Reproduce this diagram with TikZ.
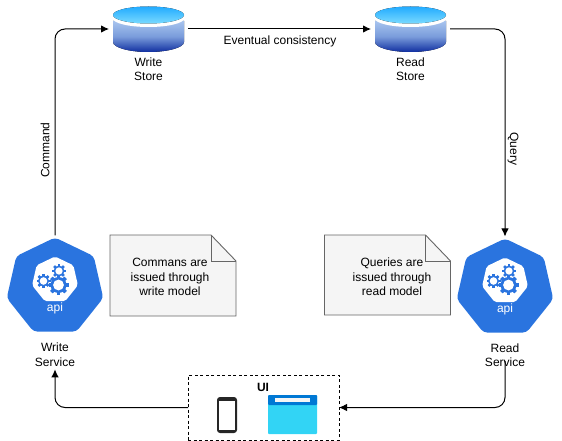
\documentclass[tikz,border=0pt]{standalone}
\usepackage{fontspec}
\setmainfont{Liberation Sans}
\usetikzlibrary{shapes.geometric, arrows.meta}
\definecolor{apiblue}{HTML}{2A74DF}
\definecolor{notefill}{HTML}{F5F5F5}
\definecolor{notedraw}{HTML}{666666}
\definecolor{winblue}{HTML}{0078D4}
\definecolor{wincyan}{HTML}{32D4F5}
\definecolor{storetop}{HTML}{22ABFF}
\definecolor{storelight}{HTML}{7ADAFF}
\definecolor{bodytop}{HTML}{A8C4EE}
\definecolor{bodymid}{HTML}{7A9CDB}
\definecolor{bodylow}{HTML}{0F2EA0}
\tikzset{
    conn/.style={line width=1pt, ->, rounded corners=10pt},
    labeltext/.style={align=center, inner sep=0pt, font=\fontsize{12}{14.5}\selectfont},
    notebox/.style={draw=notedraw, line width=0.9pt},
    apihull/.style={regular polygon, regular polygon sides=7, fill=apiblue, minimum size=99pt, inner sep=0pt, outer sep=0pt, rounded corners=4pt},
    apicore/.style={regular polygon, regular polygon sides=7, fill=white, minimum size=47pt, inner sep=0pt, outer sep=0pt, rounded corners=2pt},
    storebox/.style={minimum width=79pt, minimum height=46pt, inner sep=0pt, outer sep=0pt},
    gearicon/.pic={
        \foreach \a in {0,45,...,315}
            \fill[apiblue, rotate=\a] (-1.6,-10) rectangle (1.6,10);
        \fill[apiblue] (0,0) circle (8);
        \fill[white] (0,0) circle (5.4);
    },
    storeicon/.pic={
        \fill[top color=bodytop, bottom color=bodylow, middle color=bodymid]
            (-35.5,-8) -- (-35.5,13) arc[start angle=180, end angle=0, x radius=35.5, y radius=10] -- (35.5,-8) -- cycle;
        \fill[white] (0,-10.5) ellipse [x radius=35.5, y radius=8.5];
        \fill[top color=storetop, bottom color=storelight]
            (0,-14) ellipse [x radius=35.5, y radius=8.5];
    },
}
\begin{document}
\begin{tikzpicture}[x=1pt, y=-1pt, >={Latex[length=8pt, width=7.5pt]}]
    \useasboundingbox (0,0) rectangle (562,441);

    % 1. Stores
    \node[storebox] (writestore) at (148.5,29) {};
    \node[storebox] (readstore) at (410.5,29) {};
    \pic at (writestore.center) {storeicon};
    \pic at (readstore.center) {storeicon};
    \node[labeltext] (writestorelabel) at (148.5,69) {Write\\Store};
    \node[labeltext] (readstorelabel) at (410.5,69) {Read\\Store};

    % 2. Services
    \node[apihull] (writeapi) at (55,287) {};
    \node[apihull] (readapi) at (505,288) {};
    \node[apicore] (writecore) at (55,280) {};
    \node[apicore] (readcore) at (505,281) {};
    \foreach \cx in {0,450} {
        \pic[scale=1.0] at (58.5+\cx,285) {gearicon};
        \pic[scale=0.7] at (43.5+\cx,281) {gearicon};
        \pic[scale=0.68] at (59+\cx,271) {gearicon};
    }
    \node[labeltext, white] (writeapilabel) at (55,308) {api};
    \node[labeltext, white] (readapilabel) at (505,309) {api};
    \node[labeltext] (writeservice) at (55,354.5) {Write\\Service};
    \node[labeltext] (readservice) at (505,355) {Read\\Service};

    % 3. Notes
    \draw[notebox, fill=notefill] (110,235) -- (211,235) -- (236,261) -- (236,316) -- (110,316) -- cycle;
    \draw[notebox] (211,235) -- (211,261) -- (236,261);
    \node[labeltext] (writenote) at (170,277) {Commans are\\issued through\\write model};
    \draw[notebox, fill=notefill] (324.5,235) -- (425.5,235) -- (450.5,261) -- (450.5,315) -- (324.5,315) -- cycle;
    \draw[notebox] (425.5,235) -- (425.5,261) -- (450.5,261);
    \node[labeltext] (readnote) at (392,277) {Queries are\\issued through\\read model};

    % 4. UI
    \node[draw, line width=0.8pt, dash pattern=on 3pt off 2.5pt, minimum width=151pt, minimum height=65pt, inner sep=0pt, outer sep=0pt] (uibox) at (263.5,407.5) {};
    \node[labeltext, font=\fontsize{12}{14.5}\selectfont\bfseries] (uilabel) at (263,387) {UI};
    \fill[black!85, rounded corners=3pt] (217,397) rectangle (237,433);
    \fill[white] (219,401) rectangle (235,430);
    \fill[wincyan, rounded corners=1pt] (268,395) rectangle (317,434);
    \fill[winblue, rounded corners=1pt] (268,395) rectangle (317,405);
    \fill[notefill] (275,398) rectangle (310,402);

    % 5. Connectors
    \draw[conn, shorten <=2pt] (writeapi.north) |- (writestore.west);
    \draw[conn] (writestore.east) -- (readstore.west);
    \draw[conn, shorten >=2pt] (readstore.east) -| (readapi.north);
    \draw[conn, shorten <=-6pt] (readservice.south) |- (uibox.east);
    \draw[conn, shorten >=3pt] (uibox.west) -| (writeservice.south);

    % 6. Connector labels
    \node[labeltext] (eventual) at (280,41) {Eventual consistency};
    \node[labeltext, rotate=90] (command) at (45,150) {Command};
    \node[labeltext, rotate=-90] (query) at (513,149) {Query};
\end{tikzpicture}
\end{document}
